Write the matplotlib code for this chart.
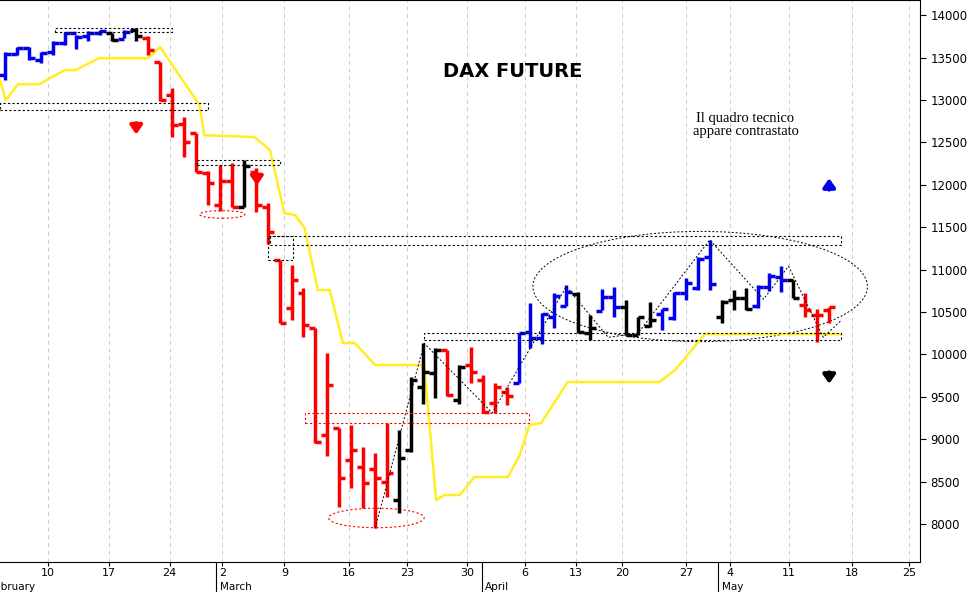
import numpy as np
import matplotlib.pyplot as plt
from matplotlib.patches import Rectangle, Ellipse

# daily OHLC, one row per trading day (Feb 6 .. May 15)
opens = [13300, 13540, 13610, 13470, 13560, 13670, 13790, 13760, 13790, 13790, 13720, 13820,
         13730, 13450, 13060, 12720, 12610, 12140, 11760, 12050, 11740, 12150, 11740, 11110,
         10550, 10720, 10310, 9050, 9130, 8750, 8670, 8650, 8490, 8280, 8870, 9620, 9780,
         10050, 9460, 9870, 9700, 9430, 9555, 9660, 10260, 10190, 10440, 10570, 10710, 10250,
         10510, 10680, 10560, 10230, 10330, 10470, 10430, 10720, 10780, 11150, 10440, 10640,
         10660, 10570, 10800, 10910, 10880, 10580, 10460, 10520]
highs = [13565, 13620, 13620, 13560, 13690, 13800, 13770, 13810, 13820, 13790, 13830, 13850,
         13750, 13450, 13140, 12800, 12610, 12160, 12230, 12260, 12290, 12200, 11780, 11110,
         11050, 10780, 10310, 10020, 9130, 9170, 8910, 8840, 9190, 9110, 9730, 10130, 10070,
         10050, 9880, 10090, 9760, 9660, 9610, 10250, 10600, 10490, 10720, 10820, 10730, 10460,
         10770, 10790, 10640, 10440, 10620, 10530, 10740, 10900, 11150, 11350, 10640, 10760,
         10780, 10820, 10960, 11040, 10880, 10720, 10530, 10560]
lows = [13235, 13525, 13470, 13440, 13530, 13650, 13600, 13700, 13770, 13690, 13730, 13690,
        13530, 12990, 12560, 12330, 12150, 11760, 11690, 11740, 11740, 11680, 11300, 10370,
        10400, 10200, 8960, 8800, 8200, 8420, 8190, 7950, 8320, 8130, 8850, 9420, 9480,
        9510, 9420, 9660, 9310, 9310, 9400, 9660, 10080, 10120, 10310, 10570, 10250, 10170,
        10520, 10440, 10230, 10230, 10320, 10290, 10410, 10640, 10760, 10760, 10370, 10520,
        10520, 10550, 10750, 10740, 10670, 10440, 10150, 10370]
closes = [13540, 13610, 13490, 13550, 13670, 13790, 13740, 13790, 13810, 13710, 13800, 13750,
          13590, 13000, 12700, 12500, 12150, 12020, 12050, 11740, 12220, 11760, 11440, 10370,
          10880, 10350, 8970, 9640, 8540, 8870, 8480, 8540, 8600, 8780, 9700, 9790, 10050,
          9520, 9850, 9790, 9320, 9610, 9510, 10250, 10190, 10470, 10690, 10740, 10260, 10310,
          10680, 10560, 10230, 10440, 10400, 10530, 10720, 10840, 11130, 10830, 10620, 10660,
          10540, 10800, 10920, 10880, 10670, 10520, 10460, 10560]
# b = blue (up trend), k = neutral, r = red (down trend)
colour_codes = "bbbbbbbbbkbk" + "rrrrrrrr" + "k" + "rrrrrrrrrrrr" + "kkkk" + "rkrrrr" + "b" \
    + "bbbb" + "kk" + "bb" + "kkk" + "bbbbb" + "kkk" + "bbb" + "k" + "rrr"

# trailing stop line (yellow)
stop_x = [-0.4, 0.1, 1.1, 2.9, 5.0, 5.9, 7.9, 12.0, 13.0, 16.3, 16.7, 20.9, 22.2, 23.4, 24.3,
          25.1, 26.2, 27.2, 28.3, 29.3, 31.0, 35.1, 36.1, 36.8, 38.1, 39.3, 42.1, 43.1, 43.9,
          44.9, 47.1, 54.8, 56.1, 58.6, 69.9]
stop_y = [13234, 12998, 13186, 13186, 13352, 13352, 13493, 13493, 13623, 12939, 12585, 12562,
          12408, 11666, 11642, 11489, 10758, 10758, 10133, 10133, 9874, 9874, 8282, 8341, 8341,
          8553, 8553, 8812, 9166, 9190, 9673, 9673, 9815, 10239, 10239]

# swing lines
swing_x = [31, 35.1, 40.8, 47, 50.5, 53, 59, 63.5, 65.6, 68.5, 70]
swing_y = [7950, 10130, 9310, 10800, 10200, 10250, 11350, 10650, 11040, 10200, 10400]

# support / resistance boxes: x0, x1, y0, y1
black_boxes = [(4.2, 14.0, 13800, 13847), (-0.4, 17.0, 12880, 12962), (16.1, 23.0, 12230, 12290),
               (22.2, 70.0, 11290, 11400), (22.0, 24.1, 11110, 11400), (35.1, 70.0, 10170, 10250)]
red_boxes = [(25.1, 43.9, 9190, 9307)]

tick_pos = [3.6, 8.7, 13.8, 18.2, 23.4, 28.8, 33.7, 38.7, 43.5, 47.8, 51.7, 57.0, 60.7, 65.6, 70.9, 75.7]
tick_labels = ["10", "17", "24", "2", "9", "16", "23", "30", "6", "13", "20", "27", "4", "11", "18", "25"]
month_pos = [-1.3, 18.0, 40.2, 60.0]
month_labels = ["February", "March", "April", "May"]

cmap = {"b": "#0000ee", "k": "black", "r": "red"}

fig = plt.figure(figsize=(9.7, 5.92), dpi=100)
ax = fig.add_axes([0, 0.0507, 920 / 970, 0.949])

for xv in tick_pos:
    ax.axvline(xv, color="#cccccc", linestyle=(0, (4, 4)), linewidth=0.7, zorder=0)

ax.plot(stop_x, stop_y, color="#ffee22", linewidth=1.8, zorder=2)

for i in range(len(opens)):
    c = cmap[colour_codes[i]]
    ax.vlines(i, lows[i], highs[i], color=c, linewidth=2.5, zorder=3)
    ax.hlines(opens[i], i - 0.5, i, color=c, linewidth=2.5, zorder=3)
    ax.hlines(closes[i], i, i + 0.5, color=c, linewidth=2.5, zorder=3)

ax.plot(swing_x, swing_y, color="black", linestyle=(0, (2, 2)), linewidth=0.7, zorder=4)

for x0, x1, y0, y1 in black_boxes:
    ax.add_patch(Rectangle((x0, y0), x1 - x0, y1 - y0, fill=False, edgecolor="black",
                           linestyle=(0, (2, 2)), linewidth=0.8, zorder=4))
for x0, x1, y0, y1 in red_boxes:
    ax.add_patch(Rectangle((x0, y0), x1 - x0, y1 - y0, fill=False, edgecolor="red",
                           linestyle=(0, (2, 2)), linewidth=0.8, zorder=4))

ax.add_patch(Ellipse((18.2, 11650), 3.8, 90, fill=False, edgecolor="red", linestyle=(0, (2, 2)), linewidth=0.8))
ax.add_patch(Ellipse((31.1, 8070), 8.0, 230, fill=False, edgecolor="red", linestyle=(0, (2, 2)), linewidth=0.8))
ax.add_patch(Ellipse((58.2, 10800), 28.0, 1300, fill=False, edgecolor="black", linestyle=(0, (2, 2)), linewidth=0.7))

arrows = [(11.0, 12760, 12560, "red"), (21.1, 12160, 11960, "red"),
          (69.0, 11910, 12110, "#0000ee"), (69.0, 9820, 9620, "black")]
for xa, y0, y1, c in arrows:
    ax.annotate("", xy=(xa, y1), xytext=(xa, y0),
                arrowprops=dict(arrowstyle="-|>,head_width=0.35,head_length=0.5", color=c, lw=3))

ax.text(42.5, 13330, "DAX FUTURE", fontsize=14, fontweight="bold", ha="center", va="center")
ax.text(62.0, 12710, "Il quadro tecnico\nappare contrastato", fontsize=10.5, ha="center", va="center",
        family="Liberation Serif", linespacing=1.0)

ax.set_xlim(-0.4, 76.6)
ax.set_ylim(7551, 14177)
ax.set_xticks(tick_pos)
ax.set_xticklabels(tick_labels, fontsize=8)
ax.tick_params(axis="x", length=3, pad=1)
for xm, lab in zip(month_pos, month_labels):
    ax.text(xm, -0.045, lab, transform=ax.get_xaxis_transform(), fontsize=7.5, ha="left", va="center", clip_on=False)
for xm in month_pos[1:]:
    ax.plot([xm - 0.3, xm - 0.3], [0, -0.06], transform=ax.get_xaxis_transform(), color="black", lw=0.8, clip_on=False)

ax.yaxis.tick_right()
ax.set_yticks(np.arange(8000, 14001, 500))
ax.tick_params(axis="y", labelsize=8.5, length=4)
ax.spines["left"].set_visible(False)

fig.savefig("out.png", dpi=100)
